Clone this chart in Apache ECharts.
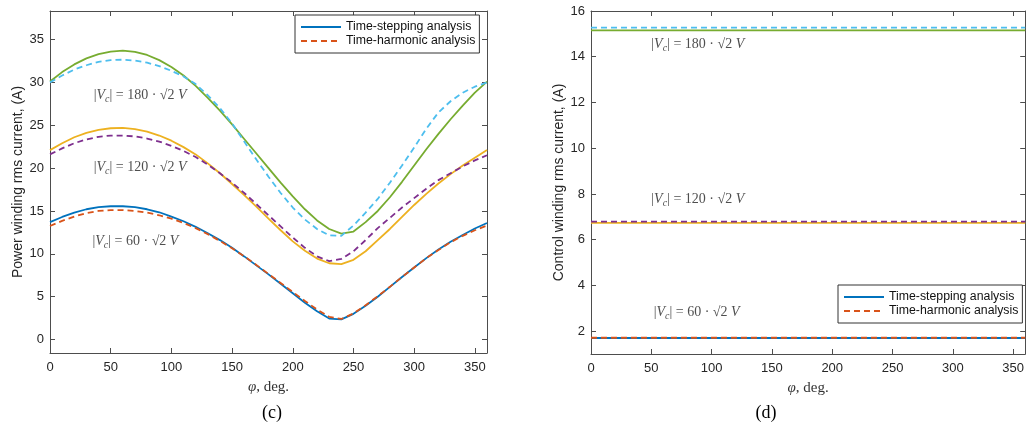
<!DOCTYPE html>
<html>
<head>
<meta charset="utf-8">
<script src="https://cdn.jsdelivr.net/npm/echarts@6/dist/echarts.min.js"></script>
<style>
  html, body { margin: 0; padding: 0; background: #fff; }
  #chart { width: 1027px; height: 428px; }
</style>
</head>
<body>
<div id="chart"></div>
<script>
// angle axis, degrees
const angles = [0, 10, 20, 30, 40, 50, 60, 70, 80, 90, 100, 110, 120, 130, 140, 150, 160, 170, 180,
  190, 200, 210, 220, 230, 240, 250, 260, 270, 280, 290, 300, 310, 320, 330, 340, 350, 360]

// (c) power winding rms current, A
const powerTs60 = [13.7, 14.3, 14.8, 15.2, 15.45, 15.55, 15.55, 15.45, 15.2, 14.85, 14.35, 13.8, 13.15,
  12.4, 11.6, 10.7, 9.7, 8.65, 7.6, 6.5, 5.4, 4.3, 3.3, 2.45, 2.35, 3.0, 3.95, 5.0, 6.15, 7.3, 8.4,
  9.5, 10.5, 11.4, 12.2, 12.95, 13.6]
const powerTh60 = [13.25, 13.85, 14.35, 14.75, 15.0, 15.1, 15.1, 15.0, 14.8, 14.5, 14.1, 13.6, 13.0,
  12.3, 11.5, 10.65, 9.7, 8.7, 7.65, 6.6, 5.55, 4.5, 3.5, 2.65, 2.4, 3.05, 4.0, 5.05, 6.15, 7.3, 8.4,
  9.5, 10.45, 11.35, 12.1, 12.75, 13.3]
const powerTs120 = [22.1, 22.9, 23.6, 24.1, 24.45, 24.65, 24.7, 24.55, 24.25, 23.8, 23.2, 22.45, 21.6,
  20.55, 19.4, 18.15, 16.85, 15.5, 14.1, 12.75, 11.45, 10.35, 9.45, 8.9, 8.8, 9.3, 10.3, 11.6, 12.9,
  14.3, 15.7, 17.0, 18.2, 19.3, 20.3, 21.2, 22.1]
const powerTh120 = [21.6, 22.3, 22.9, 23.35, 23.65, 23.8, 23.8, 23.7, 23.45, 23.1, 22.6, 22.0, 21.3,
  20.4, 19.4, 18.3, 17.1, 15.8, 14.5, 13.2, 11.9, 10.7, 9.7, 9.15, 9.4, 10.3, 11.6, 13.0, 14.2, 15.4,
  16.5, 17.6, 18.6, 19.4, 20.2, 20.9, 21.5]
const powerTs180 = [30.1, 31.2, 32.1, 32.8, 33.3, 33.6, 33.7, 33.55, 33.2, 32.6, 31.8, 30.8, 29.6,
  28.2, 26.7, 25.1, 23.4, 21.7, 20.0, 18.3, 16.7, 15.2, 13.9, 12.9, 12.35, 12.6, 13.7, 15.0, 16.6,
  18.4, 20.3, 22.2, 24.0, 25.7, 27.3, 28.8, 30.1]
const powerTh180 = [30.0, 30.8, 31.5, 32.0, 32.4, 32.6, 32.65, 32.55, 32.3, 31.9, 31.35, 30.7, 29.8,
  28.5, 27.0, 25.2, 23.1, 21.0, 19.0, 17.1, 15.4, 14.0, 12.9, 12.15, 12.1, 13.3, 14.8, 16.4, 18.3,
  20.3, 22.4, 24.6, 26.5, 27.8, 28.8, 29.5, 30.0]

// (d) control winding rms current, A
const ctrlAngles = [0, 60, 120, 180, 240, 300, 360]
const ctrlTs60 = [1.7, 1.7, 1.7, 1.7, 1.7, 1.7, 1.7]
const ctrlTh60 = [1.71, 1.71, 1.71, 1.71, 1.71, 1.71, 1.71]
const ctrlTs120 = [6.73, 6.73, 6.73, 6.73, 6.73, 6.73, 6.73]
const ctrlTh120 = [6.79, 6.79, 6.79, 6.79, 6.79, 6.79, 6.79]
const ctrlTs180 = [15.15, 15.15, 15.15, 15.15, 15.15, 15.15, 15.15]
const ctrlTh180 = [15.27, 15.27, 15.27, 15.27, 15.27, 15.27, 15.27]

// ticks
const angleTicks = [0, 50, 100, 150, 200, 250, 300, 350]
const powerTicks = [0, 5, 10, 15, 20, 25, 30, 35]
const ctrlTicks = [2, 4, 6, 8, 10, 12, 14, 16]

// annotation labels [angle, value, voltage]
const powerNotes = [[36, 28.5, '180'], [36, 20.1, '120'], [35, 11.5, '60']]
const ctrlNotes = [[50, 14.55, '180'], [50, 7.78, '120'], [52, 2.83, '60']]

const TS_NAME = 'Time-stepping analysis'
const TH_NAME = 'Time-harmonic analysis'
const colors = ['#0072BD', '#D95319', '#EDB120', '#7E2F8E', '#77AC30', '#4DBEEE']

const axisColor = '#4d4d4d'
const labelFont = 'Liberation Sans'
const serif = 'Liberation Serif'

const zip = (xs, ys) => xs.map((x, i) => [x, ys[i]])

const makeX = (gridIndex, top) => ({
  type: 'value', gridIndex, min: 0, max: 360,
  position: top ? 'top' : 'bottom',
  axisLine: { show: true, onZero: false, lineStyle: { color: axisColor, width: 1 } },
  axisTick: { show: true, inside: true, length: 5, customValues: angleTicks, lineStyle: { color: axisColor } },
  axisLabel: top ? { show: false } : {
    show: true, customValues: angleTicks, color: '#262626', fontSize: 13, fontFamily: labelFont, margin: 8
  },
  splitLine: { show: false },
  name: top ? '' : '{i|φ}{n|, deg.}',
  nameLocation: 'middle', nameGap: 27,
  nameTextStyle: {
    rich: {
      i: { fontFamily: serif, fontStyle: 'italic', fontSize: 15, color: '#333' },
      n: { fontFamily: serif, fontSize: 15, color: '#333' }
    }
  }
})

const makeY = (gridIndex, right, min, max, ticks, name) => ({
  type: 'value', gridIndex, min, max,
  position: right ? 'right' : 'left',
  axisLine: { show: true, onZero: false, lineStyle: { color: axisColor, width: 1 } },
  axisTick: { show: true, inside: true, length: 5, customValues: ticks, lineStyle: { color: axisColor } },
  axisLabel: right ? { show: false } : {
    show: true, customValues: ticks, color: '#262626', fontSize: 13, fontFamily: labelFont, margin: 6
  },
  splitLine: { show: false },
  name: right ? '' : name,
  nameLocation: 'middle', nameGap: 25,
  nameTextStyle: { fontFamily: labelFont, fontSize: 14, color: '#262626' }
})

const line = (name, xs, ys, color, dashed, axisIndex) => ({
  name, type: 'line', xAxisIndex: axisIndex, yAxisIndex: axisIndex,
  data: zip(xs, ys), symbol: 'none', showSymbol: false, smooth: false,
  lineStyle: { color, width: 1.8, type: dashed ? [6, 4] : 'solid' },
  itemStyle: { color },
  silent: true, z: dashed ? 3 : 2
})

const noteRich = {
  n: { fontFamily: serif, fontSize: 14, color: '#222', lineHeight: 18 },
  i: { fontFamily: serif, fontSize: 14, fontStyle: 'italic', color: '#222', lineHeight: 18 },
  s: { fontFamily: serif, fontSize: 10, fontStyle: 'italic', color: '#222', lineHeight: 18, verticalAlign: 'bottom' }
}

const notes = (list, axisIndex) => ({
  type: 'scatter', xAxisIndex: axisIndex, yAxisIndex: axisIndex,
  symbolSize: 0, silent: true, z: 5,
  data: list.map(d => ({ value: [d[0], d[1]], name: d[2] })),
  label: {
    show: true, position: 'right', distance: 0,
    formatter: p => '{n||}{i|V}{s|c}{n|| = ' + p.name + ' · √2 }{i|V}',
    rich: noteRich
  }
})

const legend = (left, top) => ({
  left, top, orient: 'vertical',
  data: [TS_NAME, TH_NAME],
  itemWidth: 40, itemHeight: 12, itemGap: 2,
  padding: [6, 4, 6, 5],
  borderColor: '#333', borderWidth: 1, backgroundColor: '#fff',
  selectedMode: false,
  itemStyle: { opacity: 0 },
  lineStyle: { width: 2 },
  textStyle: { fontFamily: labelFont, fontSize: 12.3, color: '#111' }
})

const chart = echarts.init(document.getElementById('chart'))
chart.setOption({
  animation: false,
  backgroundColor: '#fff',
  grid: [
    { left: 50, top: 11, width: 437, height: 342 },
    { left: 591, top: 11, width: 435, height: 343 }
  ],
  xAxis: [makeX(0, false), makeX(0, true), makeX(1, false), makeX(1, true)],
  yAxis: [
    makeY(0, false, -1.57, 38.33, powerTicks, 'Power winding rms current, (A)'),
    makeY(0, true, -1.57, 38.33, powerTicks, ''),
    makeY(1, false, 1, 16, ctrlTicks, 'Control winding rms current, (A)'),
    makeY(1, true, 1, 16, ctrlTicks, '')
  ],
  legend: [legend(295, 15), legend(838, 285)],
  series: [
    line(TS_NAME, angles, powerTs60, colors[0], false, 0),
    line(TH_NAME, angles, powerTh60, colors[1], true, 0),
    line('ts120c', angles, powerTs120, colors[2], false, 0),
    line('th120c', angles, powerTh120, colors[3], true, 0),
    line('ts180c', angles, powerTs180, colors[4], false, 0),
    line('th180c', angles, powerTh180, colors[5], true, 0),
    line(TS_NAME, ctrlAngles, ctrlTs60, colors[0], false, 2),
    line(TH_NAME, ctrlAngles, ctrlTh60, colors[1], true, 2),
    line('ts120d', ctrlAngles, ctrlTs120, colors[2], false, 2),
    line('th120d', ctrlAngles, ctrlTh120, colors[3], true, 2),
    line('ts180d', ctrlAngles, ctrlTs180, colors[4], false, 2),
    line('th180d', ctrlAngles, ctrlTh180, colors[5], true, 2),
    notes(powerNotes, 0),
    notes(ctrlNotes, 2)
  ],
  graphic: [
    { type: 'text', x: 272, y: 413, style: { text: '(c)', align: 'center', verticalAlign: 'middle', fontSize: 18, fontFamily: serif, fill: '#000' } },
    { type: 'text', x: 766, y: 413, style: { text: '(d)', align: 'center', verticalAlign: 'middle', fontSize: 18, fontFamily: serif, fill: '#000' } }
  ]
})
</script>
</body>
</html>
